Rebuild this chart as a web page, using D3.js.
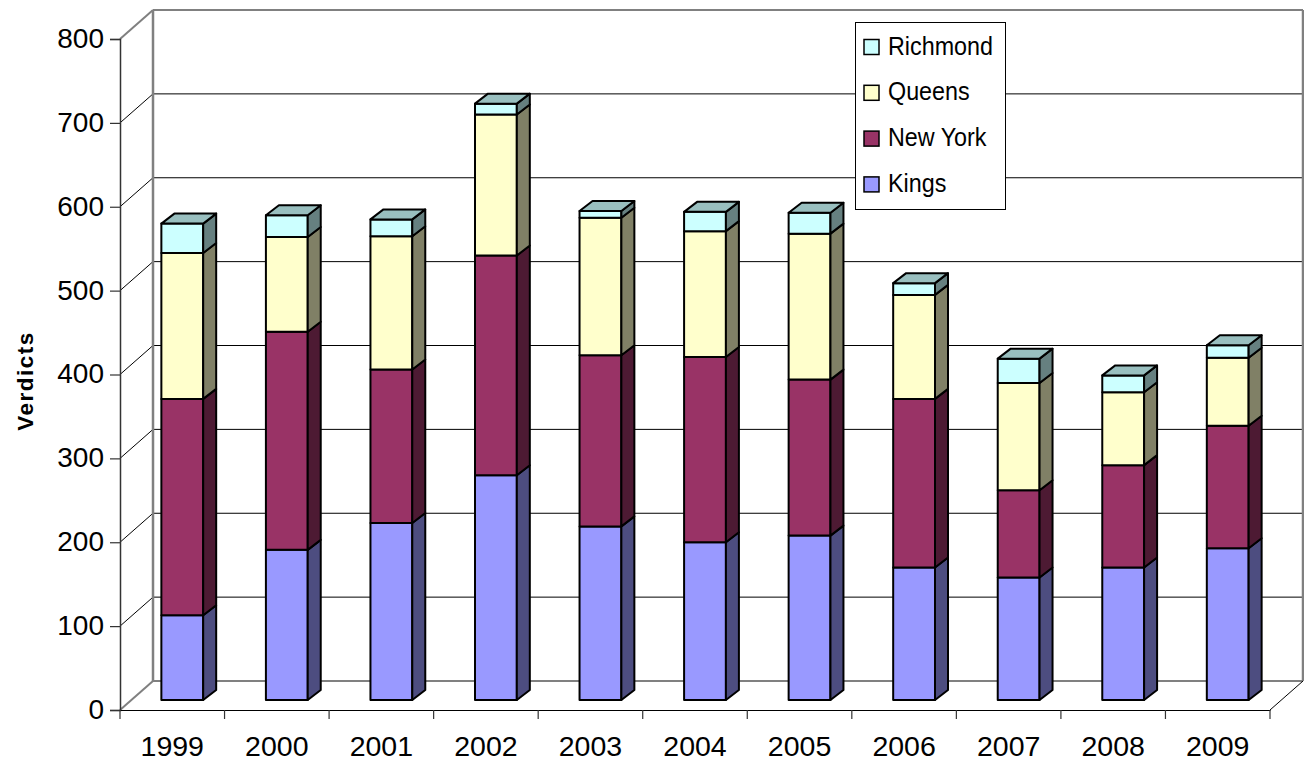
<!DOCTYPE html>
<html>
<head>
<meta charset="utf-8">
<script src="https://cdn.jsdelivr.net/npm/d3@7"></script>
<style>
  html, body { margin: 0; padding: 0; background: #fff; }
  svg { display: block; font-family: "Liberation Sans", Arial, sans-serif; }
</style>
</head>
<body>
<svg id="chart" width="1304" height="762"></svg>
<script>
// Verdicts per year, by borough
const years = ["1999", "2000", "2001", "2002", "2003", "2004", "2005", "2006", "2007", "2008", "2009"];
const kings    = [101, 179, 211, 268, 207, 188, 196, 158, 146, 158, 181];
const newYork  = [258, 260, 183, 262, 204, 221, 186, 201, 104, 122, 146];
const queens   = [174, 113, 159, 168, 164, 150, 174, 124, 128,  87,  81];
const richmond = [ 35,  26,  20,  13,   8,  23,  25,  14,  29,  20,  15];

const seriesNames = ["Kings", "New York", "Queens", "Richmond"];
const seriesValues = [kings, newYork, queens, richmond];
const yTicks = [0, 100, 200, 300, 400, 500, 600, 700, 800];

// face colours: front, side (darker), top (lighter shade)
const palette = {
  "Kings":    { front: "#9999FF", side: "#4D4D80", top: "#7373BF" },
  "New York": { front: "#993366", side: "#4D1A33", top: "#73264D" },
  "Queens":   { front: "#FFFFCC", side: "#808066", top: "#BFBF99" },
  "Richmond": { front: "#CCFFFF", side: "#668080", top: "#99BFBF" }
};

const svg = d3.select("#chart");

// projection of the 3D box
const X0 = 120, Y0 = 710;          // front-left-bottom corner
const plotW = 1150, plotH = 671;   // front width, value height
const wallDX = 33, wallDY = -29;   // floor depth offset
const barDX = 10, barDY = -10;     // bar front plane offset from the front edge
const sideDX = 13, sideDY = -10;   // bar depth

const x = d3.scaleBand().domain(years).range([X0, X0 + plotW]);
const y = d3.scaleLinear().domain([0, 800]).range([0, plotH]);
const barW = x.bandwidth() / 2.5;

// rows for the stack
const rows = years.map((yr, i) => {
  const r = { year: yr };
  seriesNames.forEach((s, k) => r[s] = seriesValues[k][i]);
  return r;
});
const stacked = d3.stack().keys(seriesNames)(rows);

// ---- walls ----
const walls = svg.append("g");
const backL = X0 + wallDX, backR = X0 + plotW + wallDX, backB = Y0 + wallDY;

// gridlines on the back wall and the left wall
yTicks.forEach(t => {
  const yb = backB - y(t), yf = Y0 - y(t);
  const edge = (t === 0 || t === 800);
  walls.append("line")
    .attr("x1", X0).attr("y1", yf).attr("x2", backL).attr("y2", yb)
    .attr("stroke", edge ? "#808080" : "#000").attr("stroke-width", edge ? 2 : 1);
  walls.append("line")
    .attr("x1", backL).attr("y1", yb).attr("x2", backR).attr("y2", yb)
    .attr("stroke", edge ? "#808080" : "#000").attr("stroke-width", edge ? 2.2 : 1);
});
// back wall verticals
walls.append("line")
  .attr("x1", backL).attr("y1", backB - y(800)).attr("x2", backL).attr("y2", backB)
  .attr("stroke", "#808080").attr("stroke-width", 2.5);
walls.append("line")
  .attr("x1", backR).attr("y1", backB - y(800)).attr("x2", backR).attr("y2", backB)
  .attr("stroke", "#808080").attr("stroke-width", 2.5);
// floor right edge
walls.append("line")
  .attr("x1", X0 + plotW).attr("y1", Y0).attr("x2", backR).attr("y2", backB)
  .attr("stroke", "#000").attr("stroke-width", 1);

// ---- bars ----
const bars = svg.append("g").attr("stroke", "#000").attr("stroke-width", 2).attr("stroke-linejoin", "round");
const topIndex = seriesNames.length - 1;

years.forEach((yr, i) => {
  const xl = x(yr) + x.bandwidth() / 2 - barW / 2 + barDX;
  const xr = xl + barW;
  stacked.forEach((layer, k) => {
    const d = layer[i];
    const yb = Y0 + barDY - y(d[0]);
    const yt = Y0 + barDY - y(d[1]);
    const c = palette[layer.key];
    bars.append("rect")
      .attr("x", xl).attr("y", yt).attr("width", barW).attr("height", yb - yt)
      .attr("fill", c.front);
    bars.append("polygon")
      .attr("points", [[xr, yb], [xr + sideDX, yb + sideDY], [xr + sideDX, yt + sideDY], [xr, yt]].join(" "))
      .attr("fill", c.side);
    if (k === topIndex) {
      bars.append("polygon")
        .attr("points", [[xl, yt], [xl + sideDX, yt + sideDY], [xr + sideDX, yt + sideDY], [xr, yt]].join(" "))
        .attr("fill", c.top);
    }
  });
});

// ---- axes ----
const yAxisScale = d3.scaleLinear().domain([0, 800]).range([Y0, Y0 - plotH]);
const yAxis = svg.append("g").attr("transform", `translate(${X0},0)`)
  .call(d3.axisLeft(yAxisScale).tickValues(yTicks).tickSize(10).tickPadding(6).tickFormat(d3.format("d")));
yAxis.select(".domain").attr("stroke", "#333").attr("stroke-width", 1.5);
yAxis.selectAll(".tick line").attr("stroke", "#333").attr("stroke-width", 1.2);
yAxis.selectAll(".tick text")
  .attr("font-size", 28).attr("fill", "#000").attr("dy", "0.3em")
  .attr("font-family", "Liberation Sans, Arial, sans-serif");

const xAxis = svg.append("g").attr("transform", `translate(0,${Y0})`)
  .call(d3.axisBottom(x).tickSize(0).tickPadding(0));
xAxis.select(".domain").attr("stroke", "#000").attr("stroke-width", 1.2);
xAxis.selectAll(".tick text")
  .attr("font-size", 28.5).attr("fill", "#000").attr("y", 46).attr("dy", 0)
  .attr("font-family", "Liberation Sans, Arial, sans-serif");
// category separators
const sep = svg.append("g");
years.concat(["end"]).forEach((yr, i) => {
  const xx = X0 + i * x.step();
  sep.append("line").attr("x1", xx).attr("x2", xx).attr("y1", Y0).attr("y2", Y0 + 9)
    .attr("stroke", "#333").attr("stroke-width", 1.2);
});

// axis title
svg.append("text")
  .attr("transform", "translate(33,381) rotate(-90)")
  .attr("text-anchor", "middle")
  .attr("font-size", 22.5).attr("font-weight", "bold").attr("letter-spacing", 1.5)
  .text("Verdicts");

// ---- legend ----
const legend = svg.append("g");
legend.append("rect")
  .attr("x", 855.5).attr("y", 22.5).attr("width", 150).attr("height", 187)
  .attr("fill", "#fff").attr("stroke", "#000").attr("stroke-width", 1);
const legendOrder = seriesNames.slice().reverse();
legendOrder.forEach((name, i) => {
  const cy = 47.5 + i * 45.8;
  legend.append("rect")
    .attr("x", 864).attr("y", cy - 8).attr("width", 15).attr("height", 15)
    .attr("fill", palette[name].front).attr("stroke", "#000").attr("stroke-width", 1.5);
  legend.append("text")
    .attr("transform", `translate(888,${cy + 7}) scale(0.88,1)`)
    .attr("font-size", 26.5).attr("fill", "#000")
    .attr("xml:space", "preserve")
    .text(name);
});
</script>
</body>
</html>
